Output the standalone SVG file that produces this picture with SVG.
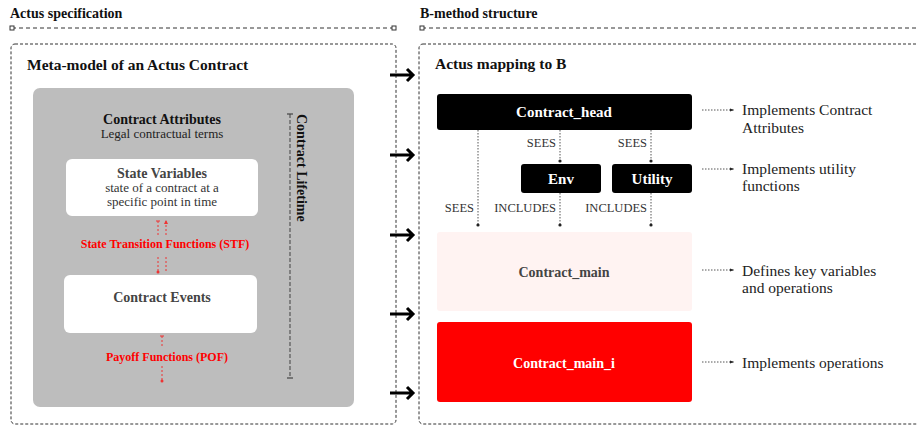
<svg xmlns="http://www.w3.org/2000/svg" width="918" height="427" viewBox="0 0 918 427">
<defs>
<style>
.f{font-family:"Liberation Serif","Times New Roman",serif}
.b{font-weight:bold}
.hdr{font-size:14px;font-weight:bold;fill:#111}
.panel{fill:none;stroke:#333;stroke-width:1;stroke-dasharray:3 2}
.hline{stroke:#333;stroke-width:1;stroke-dasharray:4 3}
.big{stroke:#000;stroke-width:3;fill:none}
.rl{stroke:#e33;stroke-width:1;stroke-dasharray:2 2;fill:none}
.dl{stroke:#555;stroke-width:1;stroke-dasharray:1.5 1.5;fill:none}
.ann{font-size:15.5px;fill:#222}
.lbl{font-size:12.5px;fill:#333}
.wt{fill:#fff;font-weight:bold;font-size:15px;text-anchor:middle}
</style>
<marker id="sq" viewBox="0 0 6 6" refX="3" refY="3" markerWidth="6" markerHeight="6" markerUnits="userSpaceOnUse"><rect x="1" y="1" width="4" height="4" fill="#fff" stroke="#333" stroke-width="1"/></marker>
<marker id="dot" viewBox="0 0 4 4" refX="2" refY="2" markerWidth="4" markerHeight="4" markerUnits="userSpaceOnUse"><circle cx="2" cy="2" r="1.6" fill="#222"/></marker>
<marker id="rdot" viewBox="0 0 4 4" refX="2" refY="2" markerWidth="4" markerHeight="4" markerUnits="userSpaceOnUse"><circle cx="2" cy="2" r="1.5" fill="#e33"/></marker>
<marker id="rtick" viewBox="0 0 6 2" refX="3" refY="1" markerWidth="6" markerHeight="2" markerUnits="userSpaceOnUse"><line x1="1" y1="1" x2="5" y2="1" stroke="#e33" stroke-width="1"/></marker>
<marker id="rarr" viewBox="0 0 6 6" refX="3" refY="1" markerWidth="6" markerHeight="6" markerUnits="userSpaceOnUse"><path d="M3 0 L5 4 L1 4 Z" fill="#e33"/></marker>
<marker id="gtick" viewBox="0 0 8 2" refX="4" refY="1" markerWidth="8" markerHeight="2" markerUnits="userSpaceOnUse"><line x1="1" y1="1" x2="7" y2="1" stroke="#444" stroke-width="1.2"/></marker>
<marker id="sarr" viewBox="0 0 6 6" refX="5" refY="3" markerWidth="6" markerHeight="6" markerUnits="userSpaceOnUse" orient="auto"><path d="M1 1.5 L5 3 L1 4.5 Z" fill="#222"/></marker>
</defs>
<rect width="918" height="427" fill="#fff"/>

<g id="headers">
<text x="10" y="18" class="f hdr" font-family="Liberation Serif">Actus specification</text>
<line x1="12" y1="28" x2="394" y2="28" class="hline" marker-start="url(#sq)" marker-end="url(#sq)"/>
<text x="420" y="18" class="f hdr" font-family="Liberation Serif">B-method structure</text>
<line x1="422" y1="28" x2="925" y2="28" class="hline" marker-start="url(#sq)"/>
</g>

<g id="left-panel">
<rect x="11" y="44" width="385" height="380" rx="4" class="panel"/>
<text x="27" y="70" class="f b" font-family="Liberation Serif" font-size="15.5" fill="#111">Meta-model of an Actus Contract</text>
<rect x="33" y="88" width="321" height="319" rx="7" fill="#bdbdbd"/>
</g>

<g id="contract-attributes">
<text x="162" y="124" class="f b" font-family="Liberation Serif" font-size="14" text-anchor="middle" fill="#111">Contract Attributes</text>
<text x="162" y="138" class="f" font-family="Liberation Serif" font-size="13" text-anchor="middle" fill="#222">Legal contractual terms</text>
</g>

<g id="state-variables">
<rect x="66" y="159" width="192" height="57" rx="6" fill="#fff"/>
<text x="162" y="178" class="f b" font-family="Liberation Serif" font-size="14" text-anchor="middle" fill="#444">State Variables</text>
<text x="162" y="192" class="f" font-family="Liberation Serif" font-size="13" text-anchor="middle" fill="#333">state of a contract at a</text>
<text x="162" y="206" class="f" font-family="Liberation Serif" font-size="13" text-anchor="middle" fill="#333">specific point in time</text>
</g>

<g id="contract-events">
<rect x="64" y="275" width="193" height="58" rx="6" fill="#fff"/>
<text x="162" y="302" class="f b" font-family="Liberation Serif" font-size="14" text-anchor="middle" fill="#444">Contract Events</text>
</g>

<g id="contract-lifetime">
<line x1="290" y1="114" x2="290" y2="378" stroke="#555" stroke-width="1.2" stroke-dasharray="4 2" marker-start="url(#gtick)" marker-end="url(#gtick)"/>
<text transform="translate(297,114) rotate(90)" class="f b" font-family="Liberation Serif" font-size="14" fill="#111">Contract Lifetime</text>
</g>

<g id="connectors">
<line x1="158" y1="221" x2="158" y2="236" class="rl" marker-start="url(#rtick)"/>
<line x1="158" y1="257" x2="158" y2="272" class="rl" marker-end="url(#rdot)"/>
<line x1="166" y1="221" x2="166" y2="236" class="rl" marker-start="url(#rarr)"/>
<line x1="166" y1="257" x2="166" y2="273" class="rl"/>
<text x="165" y="248" class="f b" font-family="Liberation Serif" font-size="12" text-anchor="middle" fill="#f00">State Transition Functions (STF)</text>
<line x1="162" y1="336" x2="162" y2="348" class="rl" marker-start="url(#rtick)"/>
<line x1="162" y1="366" x2="162" y2="381" class="rl" marker-end="url(#rdot)"/>
<text x="167" y="361" class="f b" font-family="Liberation Serif" font-size="12" text-anchor="middle" fill="#f00">Payoff Functions (POF)</text>
<path d="M390 75 H413 M407 69 L413 75 L407 81" class="big"/>
<path d="M390 155 H413 M407 149 L413 155 L407 161" class="big"/>
<path d="M390 235 H413 M407 229 L413 235 L407 241" class="big"/>
<path d="M390 314 H413 M407 308 L413 314 L407 320" class="big"/>
<path d="M390 393 H413 M407 387 L413 393 L407 399" class="big"/>
<line x1="478" y1="130" x2="478" y2="225" class="dl" marker-end="url(#dot)"/>
<line x1="560" y1="130" x2="560" y2="161" class="dl" marker-end="url(#dot)"/>
<line x1="651" y1="130" x2="651" y2="161" class="dl" marker-end="url(#dot)"/>
<line x1="560" y1="193" x2="560" y2="225" class="dl" marker-end="url(#dot)"/>
<line x1="651" y1="193" x2="651" y2="225" class="dl" marker-end="url(#dot)"/>
<text x="556" y="147" class="f lbl" font-family="Liberation Serif" text-anchor="end">SEES</text>
<text x="647" y="147" class="f lbl" font-family="Liberation Serif" text-anchor="end">SEES</text>
<text x="474" y="212" class="f lbl" font-family="Liberation Serif" text-anchor="end">SEES</text>
<text x="556" y="212" class="f lbl" font-family="Liberation Serif" text-anchor="end">INCLUDES</text>
<text x="647" y="212" class="f lbl" font-family="Liberation Serif" text-anchor="end">INCLUDES</text>
<line x1="702" y1="110" x2="734" y2="110" class="dl" marker-end="url(#sarr)"/>
<line x1="702" y1="169" x2="734" y2="169" class="dl" marker-end="url(#sarr)"/>
<line x1="702" y1="270" x2="734" y2="270" class="dl" marker-end="url(#sarr)"/>
<line x1="702" y1="362" x2="734" y2="362" class="dl" marker-end="url(#sarr)"/>
</g>

<g id="right-panel">
<rect x="419" y="44" width="510" height="380" rx="4" class="panel"/>
<text x="435" y="69" class="f b" font-family="Liberation Serif" font-size="15.5" fill="#111">Actus mapping to B</text>
</g>

<g id="contract-head">
<rect x="437" y="94" width="255" height="36" rx="3" fill="#000"/>
<text x="564" y="117" class="f wt" font-family="Liberation Serif">Contract_head</text>
</g>

<g id="env">
<rect x="521" y="164" width="80" height="29" rx="3" fill="#000"/>
<text x="561" y="184" class="f wt" font-family="Liberation Serif">Env</text>
</g>

<g id="utility">
<rect x="612" y="164" width="80" height="29" rx="3" fill="#000"/>
<text x="652" y="184" class="f wt" font-family="Liberation Serif">Utility</text>
</g>

<g id="contract-main">
<rect x="437" y="232" width="255" height="79" rx="3" fill="#fff3f2"/>
<text x="564" y="277" class="f b" font-family="Liberation Serif" font-size="14" text-anchor="middle" fill="#444">Contract_main</text>
</g>

<g id="contract-main-i">
<rect x="437" y="322" width="255" height="80" rx="3" fill="#f00"/>
<text x="564" y="368" class="f b" font-family="Liberation Serif" font-size="14" text-anchor="middle" fill="#fff">Contract_main_i</text>
</g>

<g id="annotations">
<text x="742" y="115" class="f ann" font-family="Liberation Serif">Implements Contract</text>
<text x="742" y="133" class="f ann" font-family="Liberation Serif">Attributes</text>
<text x="742" y="174" class="f ann" font-family="Liberation Serif">Implements utility</text>
<text x="742" y="191" class="f ann" font-family="Liberation Serif">functions</text>
<text x="742" y="276" class="f ann" font-family="Liberation Serif">Defines key variables</text>
<text x="742" y="293" class="f ann" font-family="Liberation Serif">and operations</text>
<text x="742" y="368" class="f ann" font-family="Liberation Serif">Implements operations</text>
</g>
</svg>
